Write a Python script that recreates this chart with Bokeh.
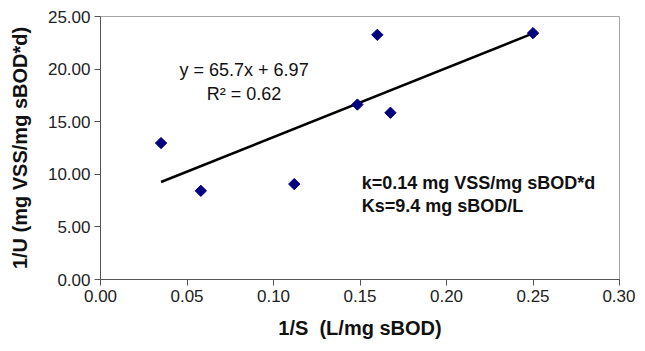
from bokeh.plotting import figure
from bokeh.models import Range1d, FixedTicker, PrintfTickFormatter, Label
from bokeh.embed import file_html
from bokeh.resources import INLINE

# data
inv_s = [0.035, 0.058, 0.112, 0.1485, 0.160, 0.1676, 0.250]
inv_u = [12.97, 8.43, 9.07, 16.63, 23.26, 15.85, 23.42]
slope = 65.7
intercept = 6.97
r2 = 0.62
x_ticks = [0.0, 0.05, 0.10, 0.15, 0.20, 0.25, 0.30]
y_ticks = [0, 5, 10, 15, 20, 25]

FONT = "Liberation Sans"

p = figure(width=635, height=343, output_backend="svg", toolbar_location=None,
           x_range=Range1d(0, 0.30), y_range=Range1d(0, 25),
           min_border_left=100, min_border_right=16, min_border_top=16, min_border_bottom=64)
p.grid.visible = False
p.outline_line_color = "#a6a6a6"
p.outline_line_width = 1

for ax in (p.xaxis, p.yaxis):
    ax.axis_line_color = "#555555"
    ax.major_tick_line_color = "#555555"
    ax.major_tick_out = 6
    ax.major_tick_in = 0
    ax.minor_tick_line_color = None
    ax.major_label_text_font = FONT
    ax.major_label_text_font_size = "17px"
    ax.major_label_text_color = "#222222"
    ax.axis_label_text_font = FONT
    ax.axis_label_text_font_style = "bold"
    ax.axis_label_text_font_size = "20px"
    ax.axis_label_text_color = "#111111"
    ax.major_label_standoff = 4

p.xaxis.ticker = FixedTicker(ticks=x_ticks)
p.yaxis.ticker = FixedTicker(ticks=y_ticks)
p.xaxis.formatter = PrintfTickFormatter(format="%.2f")
p.yaxis.formatter = PrintfTickFormatter(format="%.2f")
p.xaxis.axis_label = "1/S\u00a0 (L/mg sBOD)"
p.yaxis.axis_label = "1/U (mg VSS/mg sBOD*d)"
p.xaxis.axis_label_standoff = 12
p.yaxis.axis_label_standoff = 14

# trendline over data extent
x0, x1 = min(inv_s), max(inv_s)
p.line([x0, x1], [slope * x0 + intercept, slope * x1 + intercept], line_color="black", line_width=2.5)

p.scatter(inv_s, inv_u, marker="square", angle=0.785398, size=8, fill_color="#000080", line_color="#000080")

p.add_layout(Label(x=0.083, y=19.9, text=f"y = {slope}x + {intercept}", text_align="center",
                   text_baseline="middle", text_font=FONT, text_font_size="18px", text_color="#111111"))
p.add_layout(Label(x=0.083, y=17.6, text=f"R\u00b2 = {r2}", text_align="center",
                   text_baseline="middle", text_font=FONT, text_font_size="18px", text_color="#111111"))
p.add_layout(Label(x=0.151, y=9.2, text="k=0.14 mg VSS/mg sBOD*d", text_align="left",
                   text_baseline="middle", text_font=FONT, text_font_size="18px",
                   text_font_style="bold", text_color="#111111"))
p.add_layout(Label(x=0.151, y=7.0, text="Ks=9.4 mg sBOD/L", text_align="left",
                   text_baseline="middle", text_font=FONT, text_font_size="18px",
                   text_font_style="bold", text_color="#111111"))

open("out.html", "w").write(file_html(p, INLINE))
